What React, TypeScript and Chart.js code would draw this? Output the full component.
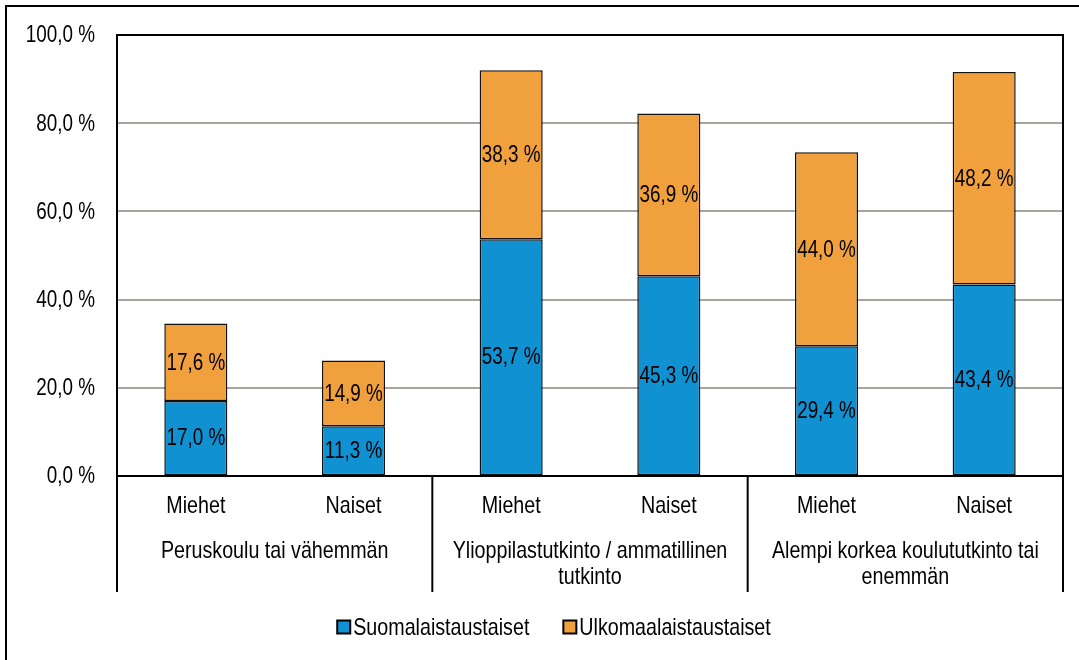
import React, { useEffect, useRef } from "react";
import { Chart, registerables } from "chart.js";

Chart.register(...registerables);

const categories = ["Miehet", "Naiset", "Miehet", "Naiset", "Miehet", "Naiset"];
const groupLabels: string[][] = [
  ["Peruskoulu tai vähemmän"],
  ["Ylioppilastutkinto / ammatillinen", "tutkinto"],
  ["Alempi korkea koulututkinto tai", "enemmän"],
];
const seriesNames = ["Suomalaistaustaiset", "Ulkomaalaistaustaiset"];
const suomalaisValues = [17.0, 11.3, 53.7, 45.3, 29.4, 43.4];
const ulkomaalaisValues = [17.6, 14.9, 38.3, 36.9, 44.0, 48.2];
const yTicks = [0, 20, 40, 60, 80, 100];

const FONT = "'Liberation Sans', Arial, Helvetica, sans-serif";
const NARROW = 0.82;
const BLUE = "#0f91d2";
const ORANGE = "#f0a13e";

const fmt = (v: number) => v.toFixed(1).replace(".", ",") + " %";

function narrowText(
  ctx: CanvasRenderingContext2D,
  text: string,
  x: number,
  y: number,
  size: number,
  align: CanvasTextAlign
) {
  ctx.save();
  ctx.font = `${size}px ${FONT}`;
  ctx.fillStyle = "#000";
  ctx.textAlign = align;
  ctx.textBaseline = "middle";
  ctx.translate(x, y);
  ctx.scale(NARROW, 1);
  ctx.fillText(text, 0, 0);
  ctx.restore();
}

function narrowWidth(ctx: CanvasRenderingContext2D, text: string, size: number) {
  ctx.save();
  ctx.font = `${size}px ${FONT}`;
  const w = ctx.measureText(text).width * NARROW;
  ctx.restore();
  return w;
}

const customPlugin = {
  id: "custom",
  beforeDraw(chart: any) {
    const ctx = chart.ctx;
    ctx.save();
    ctx.fillStyle = "#ffffff";
    ctx.fillRect(0, 0, chart.width, chart.height);
    ctx.restore();
  },
  afterDatasetsDraw(chart: any) {
    const ctx = chart.ctx;
    chart.data.datasets.forEach((ds: any, di: number) => {
      const meta = chart.getDatasetMeta(di);
      meta.data.forEach((bar: any, i: number) => {
        const v = ds.data[i];
        const y = (bar.y + bar.base) / 2;
        narrowText(ctx, fmt(v), bar.x, y + 1, 23, "center");
      });
    });
  },
  afterDraw(chart: any) {
    const ctx = chart.ctx;
    const area = chart.chartArea;
    const x = chart.scales.x;
    const y = chart.scales.y;
    ctx.save();
    ctx.strokeStyle = "#000";
    ctx.lineWidth = 2;
    ctx.beginPath();
    ctx.moveTo(6, chart.height + 5);
    ctx.lineTo(6, 6);
    ctx.lineTo(chart.width + 5, 6);
    ctx.stroke();
    ctx.beginPath();
    ctx.moveTo(area.left, area.top);
    ctx.lineTo(area.right, area.top);
    ctx.lineTo(area.right, area.bottom);
    ctx.stroke();
    const n = categories.length;
    const bounds: number[] = [area.left];
    for (let i = 1; i < n / 2; i++) {
      bounds.push((x.getPixelForValue(2 * i - 1) + x.getPixelForValue(2 * i)) / 2);
    }
    bounds.push(area.right);
    ctx.beginPath();
    bounds.forEach((bx) => {
      ctx.moveTo(bx, area.bottom);
      ctx.lineTo(bx, area.bottom + 116);
    });
    ctx.stroke();
    ctx.restore();

    // y tick labels
    y.ticks.forEach((t: any) => {
      narrowText(ctx, fmt(t.value), area.left - 22, y.getPixelForValue(t.value) + 1, 23, "right");
    });
    // x tick labels
    categories.forEach((c, i) => {
      narrowText(ctx, c, x.getPixelForValue(i), area.bottom + 30, 24, "center");
    });
    // group labels
    groupLabels.forEach((lines, gi) => {
      const cx = (x.getPixelForValue(2 * gi) + x.getPixelForValue(2 * gi + 1)) / 2;
      lines.forEach((ln, li) => {
        narrowText(ctx, ln, cx, area.bottom + 75 + li * 26, 24, "center");
      });
    });
    // legend
    const ly = 627;
    const box = 13;
    const gapBoxText = 3;
    const gapItems = 34;
    const items = chart.data.datasets.map((ds: any) => ({
      label: ds.label,
      color: ds.backgroundColor,
      w: narrowWidth(ctx, ds.label, 24),
    }));
    const total =
      items.reduce((s: number, it: any) => s + box + gapBoxText + it.w, 0) +
      gapItems * (items.length - 1);
    let lx = 554 - total / 2;
    items.forEach((it: any) => {
      ctx.save();
      ctx.fillStyle = it.color;
      ctx.fillRect(lx, ly - box / 2, box, box);
      ctx.strokeStyle = "#000";
      ctx.lineWidth = 2;
      ctx.strokeRect(lx, ly - box / 2, box, box);
      ctx.restore();
      narrowText(ctx, it.label, lx + box + gapBoxText, ly + 1, 24, "left");
      lx += box + gapBoxText + it.w + gapItems;
    });
  },
};

export default function App() {
  const ref = useRef<HTMLCanvasElement | null>(null);
  useEffect(() => {
    document.body.style.margin = "0";
    if (!ref.current) return;
    const chart = new Chart(ref.current, {
      type: "bar",
      data: {
        labels: categories,
        datasets: [
          {
            label: seriesNames[0],
            data: suomalaisValues,
            backgroundColor: BLUE,
            borderColor: "#111",
            borderWidth: 1.5,
            borderSkipped: false,
            barPercentage: 0.4,
            categoryPercentage: 1,
          },
          {
            label: seriesNames[1],
            data: ulkomaalaisValues,
            backgroundColor: ORANGE,
            borderColor: "#111",
            borderWidth: 1.5,
            borderSkipped: false,
            barPercentage: 0.4,
            categoryPercentage: 1,
          },
        ],
      },
      options: {
        responsive: false,
        animation: false,
        layout: { padding: { left: 0, top: 35, right: 16, bottom: 0 } },
        plugins: {
          legend: { display: false },
          tooltip: { enabled: false },
        },
        scales: {
          x: {
            stacked: true,
            grid: { display: false, drawTicks: false },
            border: { display: true, color: "#000", width: 2 },
            ticks: { display: false, autoSkip: false },
            afterFit: (scale: any) => {
              scale.height = 184;
            },
          },
          y: {
            stacked: true,
            min: 0,
            max: 100,
            afterBuildTicks: (scale: any) => {
              scale.ticks = yTicks.map((v) => ({ value: v }));
            },
            grid: {
              color: "#a9a39d",
              lineWidth: 2,
              drawTicks: false,
            },
            border: { display: true, color: "#000", width: 2 },
            ticks: { display: false },
            afterFit: (scale: any) => {
              scale.width = 117;
            },
          },
        },
      },
      plugins: [customPlugin],
    });
    return () => chart.destroy();
  }, []);
  return (
    <canvas
      ref={ref}
      width={1079}
      height={660}
      style={{ display: "block", width: 1079, height: 660 }}
    />
  );
}
